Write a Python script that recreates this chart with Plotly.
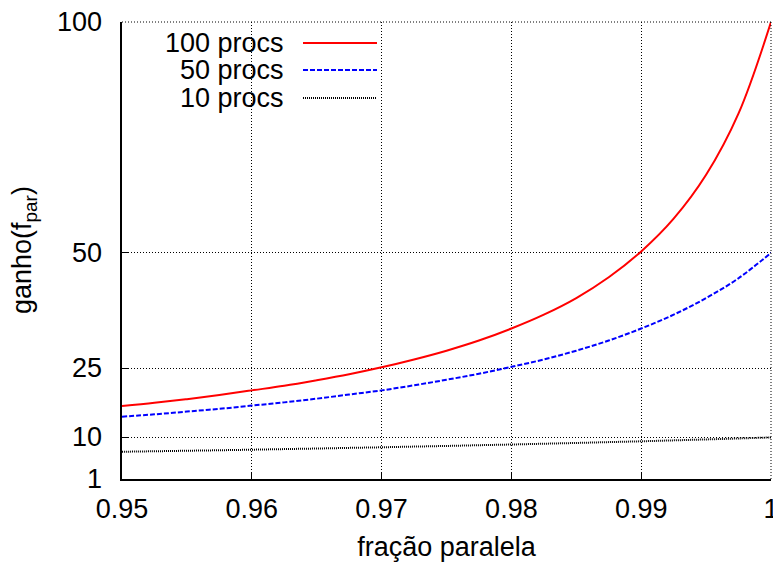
import plotly.graph_objects as go

frac = [0.95, 0.9525, 0.955, 0.9575, 0.96, 0.9625, 0.965, 0.9675, 0.97, 0.9725,
        0.975, 0.9775, 0.98, 0.9825, 0.985, 0.9875, 0.99, 0.9925, 0.995, 0.9975, 1.0]
procs100 = [16.8, 17.5, 18.3, 19.2, 20.2, 21.2, 22.4, 23.7, 25.2, 26.9,
            28.8, 31.0, 33.6, 36.6, 40.2, 44.7, 50.3, 57.4, 66.9, 80.2, 100.0]
procs50 = [14.5, 15.0, 15.6, 16.2, 16.9, 17.6, 18.4, 19.3, 20.2, 21.3,
           22.5, 23.8, 25.3, 26.9, 28.8, 31.0, 33.6, 36.6, 40.2, 44.5, 50.0]
procs10 = [6.9, 7.01, 7.12, 7.23, 7.35, 7.48, 7.60, 7.74, 7.87, 8.02,
           8.16, 8.32, 8.47, 8.64, 8.81, 8.99, 9.17, 9.37, 9.57, 9.78, 10.0]
series_names = ["100 procs", "50 procs", "10 procs"]
xticks = [0.95, 0.96, 0.97, 0.98, 0.99, 1.0]
xticklabels = ["0.95", "0.96", "0.97", "0.98", "0.99", "1"]
yticks = [1, 10, 25, 50, 100]
yticklabels = ["1", "10", "25", "50", "100"]

FONT = "Liberation Sans, Arial, sans-serif"
FS = 27
styles = [dict(color="#ff0000", dash="solid", width=2),
          dict(color="#0000ff", dash="5px,2px", width=2),
          dict(color="#000000", dash="1px,1px", width=2)]

fig = go.Figure()
for name, ys, st in zip(series_names, [procs100, procs50, procs10], styles):
    fig.add_trace(go.Scatter(x=frac, y=ys, mode="lines", name=name,
                             line=dict(color=st["color"], dash=st["dash"], width=st["width"], shape="spline"),
                             showlegend=False, cliponaxis=False))

H = 562
L, R, T, B = 122, 771, 22, 479
def px(x):
    return (x - L) / (R - L)
def py(y):
    return (B - y) / (B - T)

# manual legend (text right-aligned, sample on the right)
leg_y = [43, 70, 98]
for name, st, yy in zip(series_names, styles, leg_y):
    fig.add_annotation(text=name, xref="paper", yref="paper", x=px(286), y=py(yy),
                       xanchor="right", yanchor="middle", showarrow=False,
                       font=dict(family=FONT, size=FS, color="black"))
    fig.add_shape(type="line", xref="paper", yref="paper",
                  x0=px(303), x1=px(377), y0=py(yy), y1=py(yy),
                  line=dict(color=st["color"], dash=st["dash"], width=st["width"]))

# y tick labels placed a little away from the axis, as in the reference
for v, t in zip(yticks, yticklabels):
    fig.add_annotation(text=t, xref="paper", yref="y", x=px(104), y=v,
                       xanchor="right", yanchor="middle", showarrow=False,
                       font=dict(family=FONT, size=FS, color="black"))

# y axis title
fig.add_annotation(text="ganho(f<sub>par</sub>)", xref="paper", yref="paper",
                   x=px(24), y=py(250), xanchor="center", yanchor="middle",
                   textangle=-90, showarrow=False,
                   font=dict(family=FONT, size=FS, color="black"))

fig.update_layout(
    width=773, height=562,
    margin=dict(l=L, r=773 - R, t=T, b=H - B, autoexpand=False),
    paper_bgcolor="white", plot_bgcolor="white",
    font=dict(family=FONT, size=FS, color="black"),
    xaxis=dict(range=[0.95, 1.0], tickvals=xticks, ticktext=xticklabels,
               showgrid=True, gridcolor="black", griddash="1px,2px", gridwidth=1,
               showline=True, linecolor="black", linewidth=2, mirror=False,
               ticks="inside", ticklen=6, tickcolor="black", tickwidth=1,
               zeroline=False, automargin=False, ticklabeloverflow="allow",
               ticklabelstandoff=5,
               tickfont=dict(size=FS),
               title=dict(text="fração paralela", font=dict(size=FS), standoff=25)),
    yaxis=dict(range=[1, 100], tickvals=yticks, showticklabels=False,
               showgrid=True, gridcolor="black", griddash="1px,2px", gridwidth=1,
               showline=True, linecolor="black", linewidth=2, mirror=False,
               ticks="inside", ticklen=6, tickcolor="black", tickwidth=1,
               zeroline=False, automargin=False),
)

# top and right dotted border
fig.add_shape(type="line", xref="paper", yref="paper", x0=0, x1=1, y0=1, y1=1,
              line=dict(color="black", dash="1px,2px", width=1))
fig.add_shape(type="line", xref="paper", yref="paper", x0=1, x1=1, y0=0, y1=1,
              line=dict(color="black", dash="1px,2px", width=1))

fig.write_html("out.html", config={"displayModeBar": False},
               post_script="document.body.style.margin='0';document.body.style.overflow='hidden';")
